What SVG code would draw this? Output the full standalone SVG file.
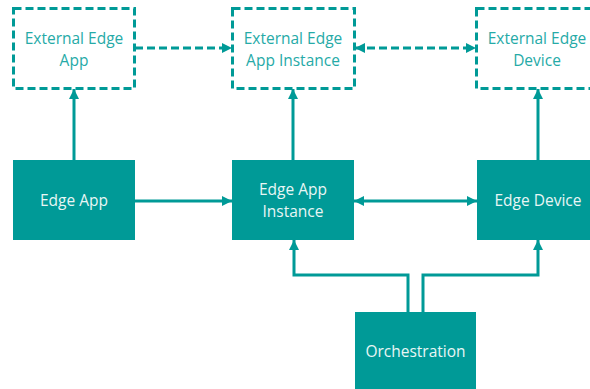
<svg xmlns="http://www.w3.org/2000/svg" width="590" height="389" viewBox="0 0 590 389">
<style>
.ext rect{fill:#fff;stroke:#009a97;stroke-width:3;stroke-dasharray:8 4}
.solid rect{fill:#009a97}
text{font-family:"Open Sans","Liberation Sans",sans-serif;font-size:15.5px;text-anchor:middle}
.ext text{fill:#26aaa7}
.solid text{fill:#e8f6f5}
.c path{fill:none;stroke:#009a97;stroke-width:3}
.c .d{stroke-dasharray:8 4}
</style>
<defs>
<marker id="ah" viewBox="0 0 10 10" refX="10" refY="5" markerWidth="10" markerHeight="10" markerUnits="userSpaceOnUse" orient="auto-start-reverse">
<path d="M0,0 L10,5 L0,10 z" fill="#009a97"/>
</marker>
</defs>
<rect width="590" height="389" fill="#fff"/>
<g class="c">
<path d="M74,160 V89" marker-end="url(#ah)"/>
<path d="M293,160 V89" marker-end="url(#ah)"/>
<path d="M538,160 V89" marker-end="url(#ah)"/>
<path d="M135,201 H232" marker-end="url(#ah)"/>
<path d="M354,201 H477" marker-start="url(#ah)" marker-end="url(#ah)"/>
<path class="d" d="M135,48 H232" marker-end="url(#ah)"/>
<path class="d" d="M355,48 H476" marker-start="url(#ah)" marker-end="url(#ah)"/>
<path d="M408,312 V275 H294 V240" marker-end="url(#ah)"/>
<path d="M423,312 V275 H538 V240" marker-end="url(#ah)"/>
</g>
<g id="ext-edge-app" class="ext"><rect x="13.5" y="8.5" width="121" height="80"/><text x="74" y="44">External Edge</text><text x="74" y="66">App</text></g>
<g id="ext-edge-app-instance" class="ext"><rect x="232.5" y="8.5" width="122" height="80"/><text x="293" y="44">External Edge</text><text x="293" y="66">App Instance</text></g>
<g id="ext-edge-device" class="ext"><rect x="476.5" y="8.5" width="122" height="80"/><text x="537" y="44">External Edge</text><text x="537" y="66">Device</text></g>
<g id="edge-app" class="solid"><rect x="13" y="160" width="122" height="80"/><text x="74" y="206">Edge App</text></g>
<g id="edge-app-instance" class="solid"><rect x="232" y="160" width="122" height="80"/><text x="293" y="195">Edge App</text><text x="293" y="217">Instance</text></g>
<g id="edge-device" class="solid"><rect x="477" y="160" width="122" height="80"/><text x="538" y="206">Edge Device</text></g>
<g id="orchestration" class="solid"><rect x="355" y="312" width="121" height="80"/><text x="415.5" y="357">Orchestration</text></g>
</svg>
